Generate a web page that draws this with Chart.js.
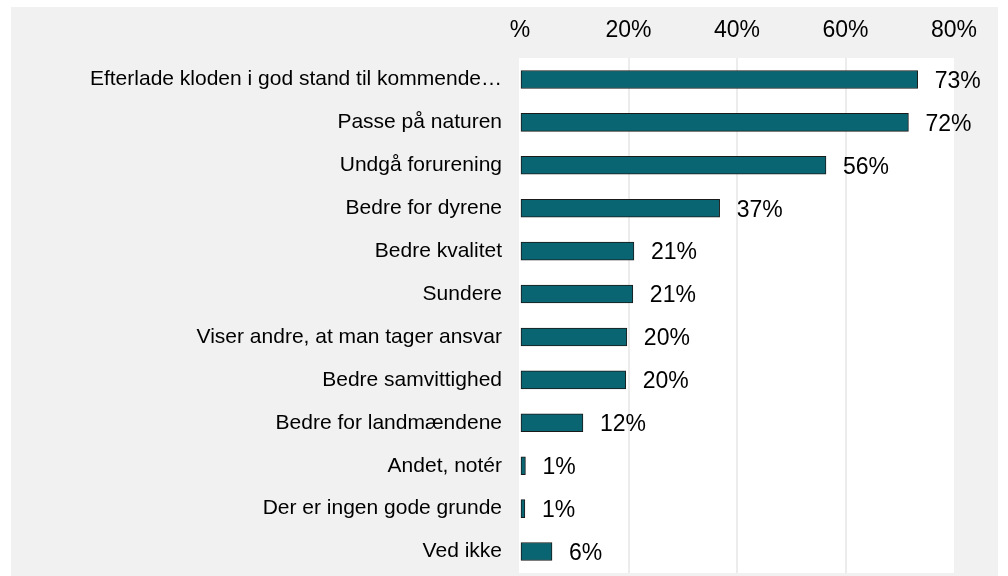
<!DOCTYPE html>
<html>
<head>
<meta charset="utf-8">
<script src="https://cdn.jsdelivr.net/npm/chart.js@4/dist/chart.umd.min.js"></script>
<style>
  html, body { margin: 0; padding: 0; background: #ffffff; }
  #wrap { width: 1008px; height: 576px; }
</style>
</head>
<body>
<div id="wrap"><canvas id="chart" width="1008" height="576"></canvas></div>
<script>
const categories = [
  'Efterlade kloden i god stand til kommende…',
  'Passe på naturen',
  'Undgå forurening',
  'Bedre for dyrene',
  'Bedre kvalitet',
  'Sundere',
  'Viser andre, at man tager ansvar',
  'Bedre samvittighed',
  'Bedre for landmændene',
  'Andet, notér',
  'Der er ingen gode grunde',
  'Ved ikke'
];
const values = [73.3, 71.6, 56.4, 36.8, 21.0, 20.8, 19.7, 19.5, 11.6, 1.0, 0.9, 5.9];
const valueLabels = ['73%', '72%', '56%', '37%', '21%', '21%', '20%', '20%', '12%', '1%', '1%', '6%'];
const tickValues = [0, 20, 40, 60, 80];
const tickLabels = ['%', '20%', '40%', '60%', '80%'];

const FONT = "'Liberation Sans', Arial, sans-serif";

// gray panel behind the chart, white plot area
const background = {
  id: 'background',
  beforeDraw(chart) {
    const ctx = chart.ctx;
    const a = chart.chartArea;
    ctx.save();
    ctx.fillStyle = '#ffffff';
    ctx.fillRect(0, 0, chart.width, chart.height);
    ctx.fillStyle = '#f1f1f1';
    ctx.fillRect(11, 7, 987, chart.height - 7);
    ctx.fillStyle = '#ffffff';
    ctx.fillRect(a.left - 1, a.top, a.right - a.left + 1, a.bottom - a.top);
    ctx.restore();
  }
};

// percent labels right of each bar
const barLabels = {
  id: 'barLabels',
  afterDatasetsDraw(chart) {
    const ctx = chart.ctx;
    const meta = chart.getDatasetMeta(0);
    ctx.save();
    ctx.font = '23px ' + FONT;
    ctx.fillStyle = '#000000';
    ctx.textAlign = 'left';
    ctx.textBaseline = 'middle';
    meta.data.forEach((bar, i) => {
      ctx.fillText(valueLabels[i], bar.x + 17, bar.y + 2);
    });
    ctx.restore();
  }
};

new Chart(document.getElementById('chart'), {
  type: 'bar',
  data: {
    labels: categories,
    datasets: [{
      data: values,
      backgroundColor: '#0a6572',
      borderColor: '#1a1a1a',
      borderWidth: 1,
      borderSkipped: false,
      barThickness: 18
    }]
  },
  options: {
    indexAxis: 'y',
    responsive: false,
    animation: false,
    layout: { padding: { left: 11, right: 54, top: 7, bottom: 3 } },
    plugins: {
      legend: { display: false },
      tooltip: { enabled: false }
    },
    scales: {
      x: {
        position: 'top',
        min: 0,
        max: 80,
        afterBuildTicks(scale) {
          scale.ticks = tickValues.map(v => ({ value: v }));
        },
        afterFit(scale) { scale.height = 51; },
        border: { display: false },
        grid: {
          drawTicks: false,
          lineWidth: 2,
          color: c => (c.tick && (c.tick.value === 0 || c.tick.value === 80)) ? 'rgba(0,0,0,0)' : '#ececec'
        },
        ticks: {
          padding: 14,
          color: '#000000',
          font: { family: FONT, size: 23 },
          maxRotation: 0,
          callback: (v, i) => tickLabels[i]
        }
      },
      y: {
        afterFit(scale) {
          scale.width = 509;
          scale.paddingTop = 0;
          scale.paddingBottom = 0;
        },
        border: { display: false },
        grid: { display: false, drawTicks: false },
        ticks: {
          padding: 18,
          color: '#000000',
          font: { family: FONT, size: 21 },
          autoSkip: false
        }
      }
    }
  },
  plugins: [background, barLabels]
});
</script>
</body>
</html>
